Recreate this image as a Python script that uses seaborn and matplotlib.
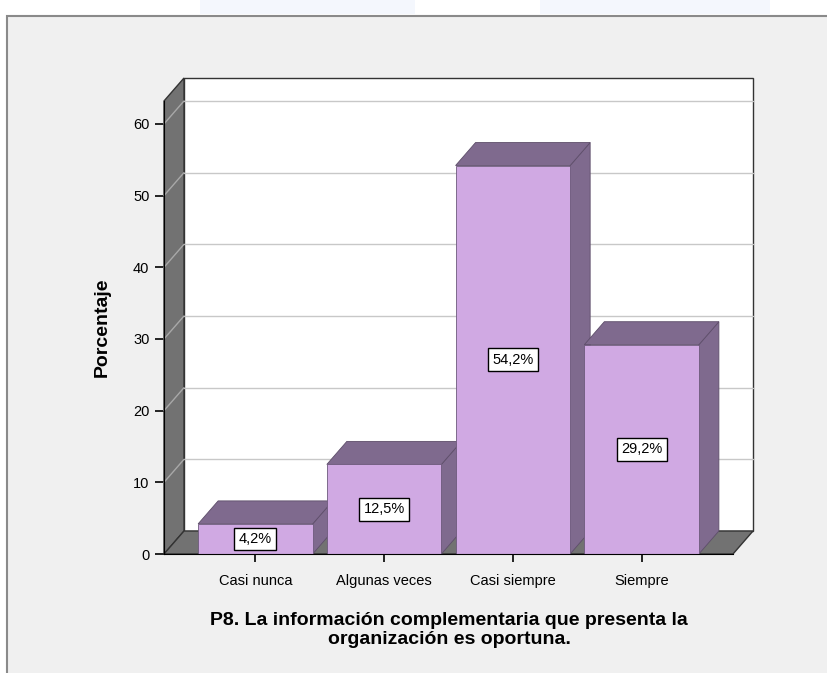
import matplotlib
matplotlib.use("Agg")
import matplotlib.pyplot as plt
from matplotlib.patches import Polygon, Rectangle
import seaborn as sns
import pandas as pd

# Data
categories = ["Casi nunca", "Algunas veces", "Casi siempre", "Siempre"]
percentages = [4.2, 12.5, 54.2, 29.2]
y_ticks = [0, 10, 20, 30, 40, 50, 60]
title_text = "P8. La información complementaria que presenta la\norganización es oportuna."
y_label = "Porcentaje"

# Styling
FRONT = "#d0a9e3"
SHADE = "#7f6a8e"
WALL = "#727272"
PANEL = "#f0f0f0"
GRID = "#c8c8c8"
DEPTH_X_PX, DEPTH_Y_PX = 20, 23

sns.set_style("white")
plt.rcParams["font.family"] = ["Liberation Sans", "DejaVu Sans"]
plt.rcParams["text.color"] = "black"
plt.rcParams["axes.labelcolor"] = "black"
plt.rcParams["xtick.color"] = "black"
plt.rcParams["ytick.color"] = "black"

W, H, DPI = 827, 673, 100
fig = plt.figure(figsize=(W / DPI, H / DPI), dpi=DPI)
fig.patch.set_facecolor("white")

# faint header blobs and the grey output panel
for bx0, bw0 in [(200, 215), (540, 230)]:
    fig.patches.append(Rectangle((bx0 / W, 1 - 14 / H), bw0 / W, 14 / H, transform=fig.transFigure,
                                 facecolor="#f4f7fd", edgecolor="none", zorder=-10))
fig.patches.append(Rectangle((7 / W, -0.01), 1.0, (H - 16) / H + 0.01, transform=fig.transFigure,
                             facecolor=PANEL, edgecolor="#8a8a8a", linewidth=1.5, zorder=-10))

ax_left, ax_right = 164, 733
ax_bottom, ax_top = 554, 101
ax = fig.add_axes([ax_left / W, 1 - ax_bottom / H, (ax_right - ax_left) / W, (ax_bottom - ax_top) / H])
ax.set_zorder(1)
ax.set_facecolor("none")

df = pd.DataFrame({"cat": categories, "pct": percentages})
sns.barplot(data=df, x="cat", y="pct", color=FRONT, width=0.89, saturation=1,
            edgecolor="#6d5a7c", linewidth=0.6, ax=ax)

x0, x1 = -0.71, 3.71
ymax = 63.2
ax.set_xlim(x0, x1)
ax.set_ylim(0, ymax)

# depth offset in data units
ddx = DEPTH_X_PX / (ax_right - ax_left) * (x1 - x0)
ddy = DEPTH_Y_PX / (ax_bottom - ax_top) * ymax

def poly(pts, **kw):
    p = Polygon(pts, closed=True, clip_on=False, **kw)
    ax.add_patch(p)
    return p

# walls and floor
poly([(x0 + ddx, ddy), (x1 + ddx, ddy), (x1 + ddx, ymax + ddy), (x0 + ddx, ymax + ddy)],
     facecolor="white", edgecolor="#333333", linewidth=1.0, zorder=0.5)
poly([(x0, 0), (x0, ymax), (x0 + ddx, ymax + ddy), (x0 + ddx, ddy)],
     facecolor=WALL, edgecolor="#333333", linewidth=1.0, zorder=0.6)
poly([(x0, 0), (x1, 0), (x1 + ddx, ddy), (x0 + ddx, ddy)],
     facecolor=WALL, edgecolor="#333333", linewidth=1.0, zorder=0.6)

for t in y_ticks[1:]:
    ax.plot([x0 + ddx, x1 + ddx], [t + ddy, t + ddy], color=GRID, lw=1.0, zorder=0.7, clip_on=False)
    ax.plot([x0, x0 + ddx], [t, t + ddy], color="#a8a8a8", lw=1.0, zorder=0.7, clip_on=False)

# 3D faces of each bar
for i, patch in enumerate(ax.patches[:len(categories)]):
    bx, bw, bh = patch.get_x(), patch.get_width(), patch.get_height()
    base = 2 + 2 * i
    poly([(bx + bw, 0), (bx + bw + ddx, ddy), (bx + bw + ddx, bh + ddy), (bx + bw, bh)],
         facecolor=SHADE, edgecolor="#5e4e6a", linewidth=0.6, zorder=base)
    poly([(bx, bh), (bx + ddx, bh + ddy), (bx + bw + ddx, bh + ddy), (bx + bw, bh)],
         facecolor=SHADE, edgecolor="#5e4e6a", linewidth=0.6, zorder=base)
    patch.set_zorder(base + 1)
    label = f"{percentages[i]:.1f}".replace(".", ",") + "%"
    ax.text(bx + bw / 2, bh / 2, label, ha="center", va="center", fontsize=10.5, zorder=20,
            bbox=dict(boxstyle="square,pad=0.3", facecolor="white", edgecolor="black", linewidth=1.0))

# axes lines and ticks
for s in ["top", "right"]:
    ax.spines[s].set_visible(False)
ax.spines["left"].set_color("black")
ax.spines["bottom"].set_color("black")
ax.spines["left"].set_zorder(30)
ax.spines["bottom"].set_zorder(30)
ax.set_yticks(y_ticks)
ax.set_yticklabels([str(t) for t in y_ticks], fontsize=10.5)
ax.tick_params(axis="y", left=True, direction="out", length=6.5, width=1.2, color="black", pad=4)
ax.tick_params(axis="x", bottom=True, direction="out", length=5.5, width=1.2, color="black", pad=9,
               labelsize=10.5)
ax.set_xlabel("")
ax.set_ylabel(y_label, fontsize=14, fontweight="bold", labelpad=16)

fig.text(449 / W, 1 - 630 / H, title_text, ha="center", va="center",
         fontsize=14, fontweight="bold", linespacing=1.15)

fig.savefig("out.png", dpi=DPI)
